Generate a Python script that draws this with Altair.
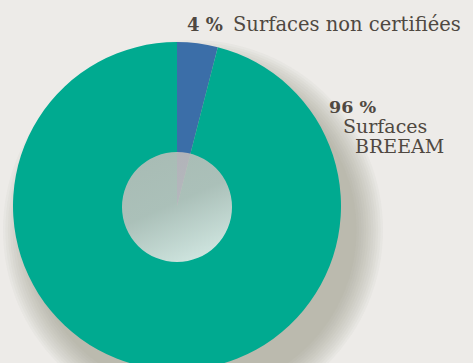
import altair as alt
import pandas as pd

categories = ["Surfaces non certifiées", "Surfaces BREEAM"]
values = [4, 96]
order = [0, 1]
colors = ["#3B6EA8", "#00AA90"]

df = pd.DataFrame({"cat": categories, "value": values, "order": order})

CX, CY, R, RIN = 177, 206, 164, 55
W, H = 473, 363

# soft shadow (decoration)
shadow_layers = []
for i in range(12):
    r = R + 26 - i * 2.4
    shadow_layers.append(
        alt.Chart(pd.DataFrame({"a": [0]})).mark_arc(
            color="#8c8478", opacity=0.05, theta=0, theta2=6.2832,
            radius=r
        ).encode(x=alt.value(CX + 16), y=alt.value(CY + 24))
    )

pie = alt.Chart(df).mark_arc(radius=R, stroke=None).encode(
    theta=alt.Theta("value:Q", stack=True),
    order=alt.Order("order:Q"),
    color=alt.Color("cat:N", scale=alt.Scale(domain=categories, range=colors), legend=None),
    x=alt.value(CX),
    y=alt.value(CY),
)

inner = alt.Chart(pd.DataFrame({"a": [0]})).mark_arc(
    theta=0, theta2=6.2832, radius=RIN, opacity=0.85,
    color=alt.Gradient(
        gradient="linear", x1=0.3, y1=0.0, x2=0.75, y2=1.0,
        stops=[alt.GradientStop(color="#c6bfbb", offset=0),
               alt.GradientStop(color="#c9c4c0", offset=0.45),
               alt.GradientStop(color="#f6f2f0", offset=1)]
    )
).encode(x=alt.value(CX), y=alt.value(CY + 1))

TXT = "#4f4841"
FONT = "DejaVu Serif"

def txt(s, x, y, bold=False, size=20):
    return alt.Chart(pd.DataFrame({"t": [s]})).mark_text(
        align="left", baseline="alphabetic", font=FONT, fontSize=size,
        fontWeight="bold" if bold else "normal", color=TXT
    ).encode(text="t:N", x=alt.value(x), y=alt.value(y))

labels = [
    txt(f"{values[0]} %", 187, 31, bold=True, size=18),
    txt("Surfaces non certifiées", 233, 31, size=19.5),
    txt(f"{values[1]} %", 329, 113, bold=True, size=17.5),
    txt("Surfaces", 343, 133, size=19),
    txt("BREEAM", 355, 153, size=19),
]

chart = alt.layer(*shadow_layers, pie, inner, *labels).properties(
    width=W, height=H, autosize=alt.AutoSizeParams(type="none"), padding=0,
    background="#edebe8"
).configure_view(stroke=None)

chart.save("out.html", embed_options={"renderer": "svg", "actions": False})
